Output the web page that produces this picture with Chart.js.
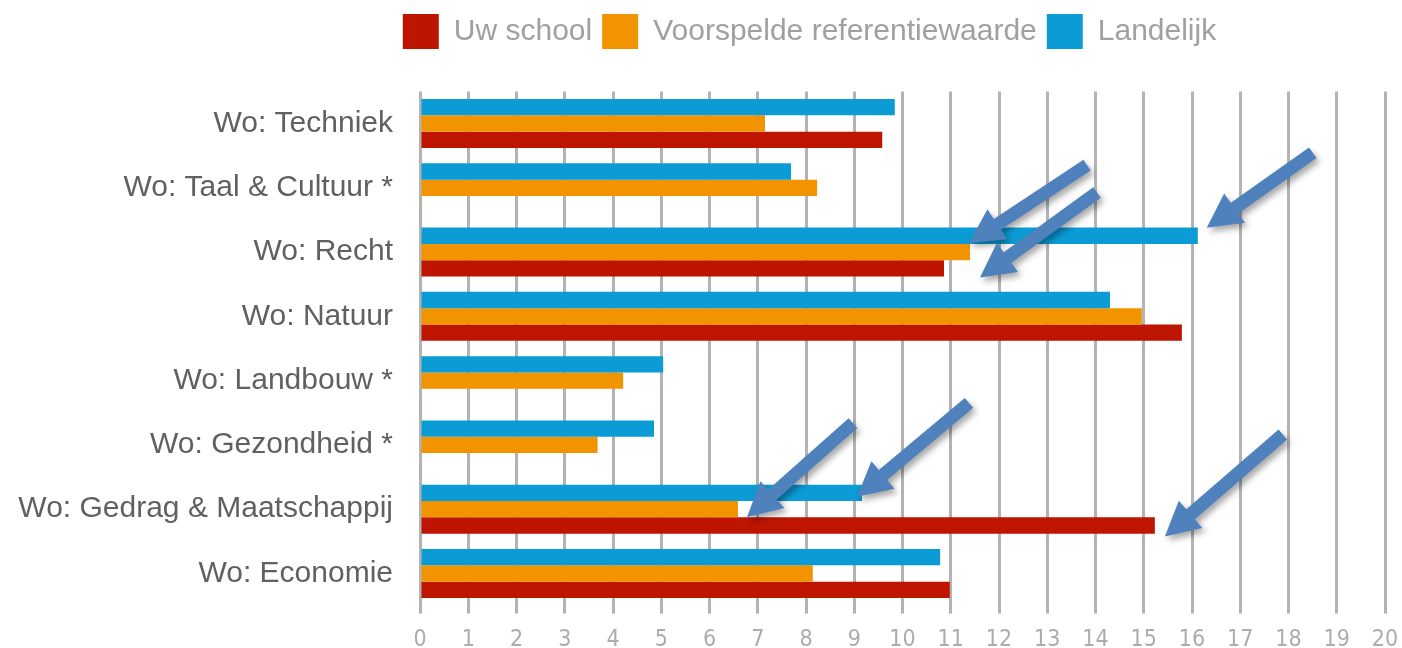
<!DOCTYPE html>
<html>
<head>
<meta charset="utf-8">
<script src="https://cdn.jsdelivr.net/npm/chart.js@4/dist/chart.umd.min.js"></script>
<style>
  html, body { margin: 0; padding: 0; background: #ffffff; }
  #wrap { width: 1402px; height: 648px; position: relative; }
</style>
</head>
<body>
<div id="wrap"><canvas id="c" width="1402" height="648"></canvas></div>
<script>
// ---- Data ----
const categories = [
  'Wo: Techniek',
  'Wo: Taal & Cultuur *',
  'Wo: Recht',
  'Wo: Natuur',
  'Wo: Landbouw *',
  'Wo: Gezondheid *',
  'Wo: Gedrag & Maatschappij',
  'Wo: Economie'
];
const uwSchool    = [9.58, null, 10.86, 15.79, null, null, 15.23, 10.98];
const voorspelde  = [7.15, 8.23, 11.40, 14.96, 4.21, 3.68, 6.59, 8.14];
const landelijk   = [9.84, 7.69, 16.12, 14.30, 5.04, 4.85, 9.16, 10.78];
const seriesNames = ['Uw school', 'Voorspelde referentiewaarde', 'Landelijk'];
const xTickMin = 0, xTickMax = 20, xTickStep = 1;

// Arrow annotations: which bar each arrow points at
const arrowNotes = [
  { category: 'Wo: Recht', series: 'Voorspelde referentiewaarde' },
  { category: 'Wo: Recht', series: 'Uw school' },
  { category: 'Wo: Recht', series: 'Landelijk' },
  { category: 'Wo: Gedrag & Maatschappij', series: 'Voorspelde referentiewaarde' },
  { category: 'Wo: Gedrag & Maatschappij', series: 'Landelijk' },
  { category: 'Wo: Gedrag & Maatschappij', series: 'Uw school' }
];
// arrow styling (offsets of the tip from the bar end, and tail vector)
const arrowStyle = [
  { tipDx: -1, tipDy: -9, vx: 118, vy: -78 },
  { tipDx: 36, tipDy: 9,  vx: 117, vy: -85 },
  { tipDx: 9,  tipDy: -8, vx: 106, vy: -75 },
  { tipDx: 9,  tipDy: 8,  vx: 106, vy: -94 },
  { tipDx: -5, tipDy: 4,  vx: 112, vy: -94 },
  { tipDx: 10, tipDy: 11, vx: 118, vy: -102 }
];

const COLORS = { 'Uw school': '#be1500', 'Voorspelde referentiewaarde': '#f29400', 'Landelijk': '#0b9cd6' };

// datasets in drawing order (top to bottom within a group)
const datasets = [
  { label: seriesNames[2], data: landelijk,  backgroundColor: COLORS['Landelijk'] },
  { label: seriesNames[1], data: voorspelde, backgroundColor: COLORS['Voorspelde referentiewaarde'] },
  { label: seriesNames[0], data: uwSchool,   backgroundColor: COLORS['Uw school'] }
].map(d => Object.assign(d, { categoryPercentage: 0.762, barPercentage: 1.0, borderWidth: 0 }));

const layoutTweaks = {
  id: 'layoutTweaks',
  beforeLayout(chart) {
    const lg = chart.legend;
    if (lg && !lg._tweaked) {
      lg._tweaked = true;
      const fit = lg.fit.bind(lg);
      lg.fit = function () { fit(); this.height = 86.4; };
      const draw = lg.draw.bind(lg);
      lg.draw = function (area) {
        const hb = this.legendHitBoxes || [];
        let dx = 0;
        if (hb.length) {
          const start = Math.min(...hb.map(h => h.left));
          const end = Math.max(...hb.map(h => h.left + h.width));
          dx = 809.5 - (start + end) / 2;
        }
        const ctx = this.ctx;
        ctx.save();
        ctx.translate(dx, -1);
        draw(area);
        ctx.restore();
      };
    }
  }
};

const arrowsPlugin = {
  id: 'arrows',
  afterDatasetsDraw(chart) {
    const ctx = chart.ctx;
    arrowNotes.forEach((n, i) => {
      const ci = categories.indexOf(n.category);
      const di = chart.data.datasets.findIndex(d => d.label === n.series);
      const el = chart.getDatasetMeta(di).data[ci];
      if (!el) return;
      const s = arrowStyle[i];
      const tx = el.x + s.tipDx, ty = el.y + s.tipDy;
      const ax = tx + s.vx, ay = ty + s.vy;
      const len = Math.hypot(s.vx, s.vy);
      const ux = -s.vx / len, uy = -s.vy / len; // tail -> tip
      const nx = -uy, ny = ux;
      const H = 34, W = 18, w = 6.5;
      const bx = tx - ux * H, by = ty - uy * H;
      ctx.save();
      ctx.shadowColor = 'rgba(0,0,0,0.35)';
      ctx.shadowBlur = 6;
      ctx.shadowOffsetX = 3;
      ctx.shadowOffsetY = 4;
      ctx.fillStyle = '#4f81bd';
      ctx.beginPath();
      ctx.moveTo(ax + nx * w, ay + ny * w);
      ctx.lineTo(bx + nx * w, by + ny * w);
      ctx.lineTo(bx + nx * W, by + ny * W);
      ctx.lineTo(tx, ty);
      ctx.lineTo(bx - nx * W, by - ny * W);
      ctx.lineTo(bx - nx * w, by - ny * w);
      ctx.lineTo(ax - nx * w, ay - ny * w);
      ctx.closePath();
      ctx.fill();
      ctx.restore();
    });
  }
};

new Chart(document.getElementById('c'), {
  type: 'bar',
  data: { labels: categories, datasets: datasets },
  plugins: [layoutTweaks, arrowsPlugin],
  options: {
    indexAxis: 'y',
    responsive: false,
    animation: false,
    events: [],
    layout: { padding: { top: 5, right: 17, left: 0, bottom: 0 } },
    plugins: {
      tooltip: { enabled: false },
      legend: {
        display: true,
        position: 'top',
        reverse: true,
        labels: {
          boxWidth: 36,
          boxHeight: 35,
          padding: 10,
          color: '#a0a0a0',
          font: { family: "'Liberation Sans', Arial, sans-serif", size: 30 }
        }
      }
    },
    scales: {
      x: {
        type: 'linear',
        position: 'bottom',
        min: xTickMin,
        max: xTickMax,
        afterFit(scale) { scale.height = 42.4; scale.paddingLeft = 0; scale.paddingRight = 0; },
        ticks: {
          stepSize: xTickStep,
          padding: 13,
          color: '#acacac',
          font: { family: "'DejaVu Sans Condensed', sans-serif", size: 23 }
        },
        grid: { color: '#b3b3b3', lineWidth: 3, tickLength: 8, drawTicks: true },
        border: { display: false }
      },
      y: {
        type: 'category',
        afterFit(scale) { scale.width = 420; },
        ticks: {
          padding: 19,
          color: '#606060',
          font: { family: "'Liberation Sans', Arial, sans-serif", size: 30 }
        },
        grid: { display: false },
        border: { display: false }
      }
    }
  }
});
</script>
</body>
</html>
